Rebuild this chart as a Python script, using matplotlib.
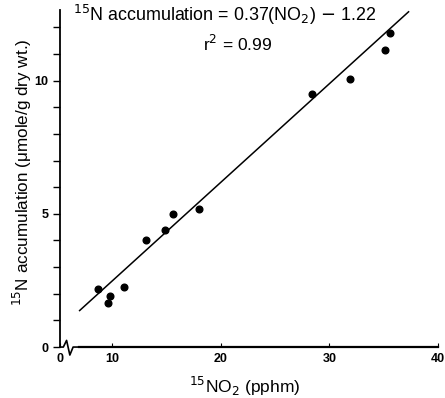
import matplotlib
matplotlib.use("Agg")
import matplotlib.pyplot as plt
import numpy as np

plt.rcParams['font.family'] = ['Liberation Sans', 'DejaVu Sans']

# Data
no2 = [8.7, 9.8, 9.6, 11.1, 13.1, 14.9, 15.6, 18.0, 28.4, 31.9, 35.1, 35.6]
n15 = [2.16, 1.92, 1.67, 2.24, 4.0, 4.38, 4.99, 5.19, 9.48, 10.07, 11.13, 11.79]
slope, intercept = 0.37, -1.22
fit_x = [7.0, 37.3]
xticks = [10, 20, 30, 40]
xticklabels = ['10', '20', '30', '40']
yticks = [0, 5, 10]

fig = plt.figure(figsize=(4.45, 3.98), dpi=100)
ax = fig.add_axes([0.135, 0.128, 0.849, 0.847])
xmin, xmax = 5.2, 40.0
ax.set_xlim(xmin, xmax)
ax.set_ylim(0, 12.65)

fx = np.array(fit_x)
ax.plot(fx, slope * fx + intercept, color='black', lw=1.1)
ax.plot(no2, n15, 'o', color='black', ms=4.8)

for s in ['top', 'right']:
    ax.spines[s].set_visible(False)
ax.spines['left'].set_linewidth(1.3)
ax.spines['bottom'].set_linewidth(1.6)
ax.spines['bottom'].set_bounds(6.9, xmax)

# axis break squiggle
bx = [xmin, 5.5, 5.8, 6.1, 6.4, 6.9]
by = [0, 0, 0.25, -0.3, 0, 0]
ax.plot(bx, by, color='black', lw=1.2, clip_on=False)

ax.set_xticks([xmin] + xticks)
ax.set_xticklabels(['0'] + xticklabels, fontsize=9, fontweight='bold')
ax.tick_params(axis='x', direction='in', length=3, pad=4)
ax.set_yticks(yticks)
ax.set_yticks(np.arange(0, 13, 1), minor=True)
ax.set_yticklabels([str(v) for v in yticks], fontsize=9, fontweight='bold')
ax.tick_params(axis='y', which='both', direction='out', length=5, width=1)

fig.text(245 / 445, 1 - 386 / 398, '$^{15}$NO$_2$ (pphm)', fontsize=12.5,
         ha='center', va='center')
fig.text(22 / 445, 1 - 172 / 398, '$^{15}$N accumulation (μmole/g dry wt.)',
         fontsize=12.3, rotation=90, ha='center', va='center')

ax.text(0.035, 0.985, '$^{15}$N accumulation = 0.37(NO$_2$) $-$ 1.22',
        transform=ax.transAxes, fontsize=12.9, ha='left', va='center')
ax.text(0.47, 0.9, 'r$^{2}$ = 0.99', transform=ax.transAxes, fontsize=12.5,
        ha='center', va='center')

fig.savefig('out.png', dpi=100)
